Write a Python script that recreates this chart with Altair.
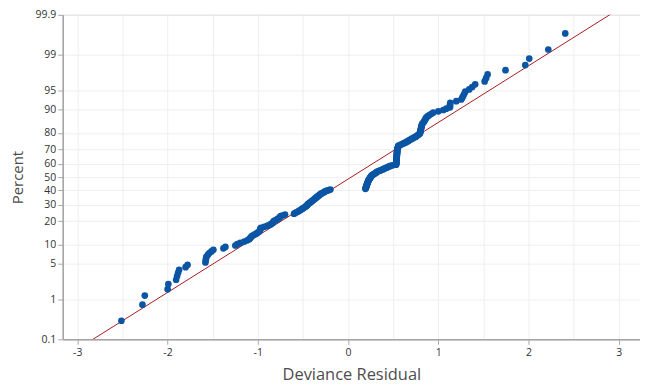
import altair as alt
import pandas as pd
from statistics import NormalDist

# Deviance residuals (sorted), in groups
lower_tail = [-2.510, -2.277, -2.251, -1.998, -1.990, -1.904, -1.893, -1.882, -1.871, -1.799, -1.777,
              -1.579, -1.576, -1.572, -1.568, -1.551, -1.535, -1.513, -1.491]
lower_body = [-1.380, -1.358, -1.248, -1.226, -1.193, -1.149, -1.116, -1.094, -1.083, -1.072, -1.061,
              -1.038, -1.016, -1.000, -0.983, -0.978, -0.972, -0.969, -0.965, -0.928, -0.895,
              -0.873, -0.854, -0.840, -0.829, -0.824, -0.818, -0.796, -0.780, -0.768, -0.757,
              -0.752, -0.744, -0.719, -0.697, -0.598, -0.587, -0.570, -0.553, -0.542, -0.526,
              -0.515, -0.504, -0.493, -0.482, -0.469, -0.460, -0.454, -0.447, -0.440, -0.432,
              -0.421, -0.410, -0.401, -0.393, -0.384, -0.375, -0.366, -0.358, -0.350, -0.341,
              -0.333, -0.324, -0.315, -0.307, -0.297, -0.286, -0.272, -0.261, -0.250, -0.234,
              -0.212, -0.195]
upper_body = [0.193, 0.196, 0.198, 0.201, 0.203, 0.205, 0.207, 0.209, 0.212, 0.214, 0.216, 0.218,
              0.222, 0.224, 0.227, 0.229,
              0.234, 0.238, 0.243, 0.247, 0.251, 0.256, 0.260, 0.266, 0.273, 0.284, 0.295, 0.307,
              0.314, 0.321,
              0.334, 0.351, 0.367, 0.384, 0.395, 0.411, 0.428, 0.439, 0.455, 0.469, 0.494, 0.533,
              0.534, 0.535, 0.535, 0.536, 0.536, 0.537, 0.537, 0.538, 0.538, 0.539, 0.539, 0.540,
              0.540, 0.541, 0.541, 0.542, 0.542, 0.543, 0.543, 0.544, 0.544, 0.545, 0.545, 0.546,
              0.547,
              0.551, 0.553, 0.556, 0.558, 0.560,
              0.582, 0.599, 0.615, 0.634, 0.648, 0.663, 0.676, 0.689, 0.703, 0.720, 0.736, 0.751,
              0.764, 0.775, 0.786, 0.797,
              0.799, 0.801, 0.803, 0.805, 0.807, 0.810, 0.812, 0.814, 0.817, 0.819,
              0.825, 0.836, 0.842, 0.849, 0.856, 0.862, 0.869, 0.885, 0.902, 0.924, 0.946]
upper_tail = [1.001, 1.056, 1.089, 1.130, 1.130, 1.131, 1.133, 1.200, 1.255, 1.266, 1.277, 1.288,
              1.299, 1.343, 1.376, 1.409, 1.514, 1.530, 1.547, 1.745, 1.964, 2.008, 2.219, 2.407]

residuals = lower_tail + lower_body + upper_body + upper_tail

y_tick_percents = [0.1, 1, 5, 10, 20, 30, 40, 50, 60, 70, 80, 90, 95, 99, 99.9]
x_tick_values = [-3, -2.5, -2, -1.5, -1, -0.5, 0, 0.5, 1, 1.5, 2, 2.5, 3]
x_domain = [-3.16, 3.235]

nd = NormalDist()
y_tick_z = [nd.inv_cdf(p / 100) for p in y_tick_percents]
y_domain = [min(y_tick_z), max(y_tick_z)]

df = pd.DataFrame({"residual": residuals})
base = alt.Chart(df)

xscale = alt.Scale(domain=x_domain, nice=False, zero=False)
yscale = alt.Scale(domain=y_domain, nice=False, zero=False)

x_axis = alt.Axis(
    values=x_tick_values,
    labelExpr="datum.value % 1 == 0 ? toString(datum.value) : ''",
    tickOpacity={"condition": {"test": "datum.value % 1 != 0", "value": 0}, "value": 1},
    grid=True, labelPadding=3, titlePadding=9, labelFlush=False,
    domainWidth=1.5, titleFontSize=16.5,
)
y_axis = alt.Axis(
    values=y_tick_z,
    labelExpr="toString(round(cumulativeNormal(datum.value) * 1000) / 10)",
    grid=True, labelPadding=2, titlePadding=10, labelOverlap=False, labelFlush=False,
    labelBound=False, domainWidth=1.5, titleFontSize=15,
)

fit_line = (
    base.transform_aggregate(m="mean(residual)", s="stdev(residual)")
    .transform_calculate(
        x1="datum.m - 3.5 * datum.s", x2="datum.m + 3.5 * datum.s",
        y1="-3.5", y2="3.5",
    )
    .mark_rule(color="#a81c1c", strokeWidth=1, clip=True)
    .encode(
        x=alt.X("x1:Q", scale=xscale, axis=x_axis, title="Deviance Residual"),
        x2="x2:Q",
        y=alt.Y("y1:Q", scale=yscale, axis=y_axis, title="Percent"),
        y2="y2:Q",
    )
)

points = (
    base.transform_window(rank="row_number()", sort=[alt.SortField("residual")])
    .transform_joinaggregate(n="count()")
    .transform_calculate(z="quantileNormal((datum.rank - 0.3) / (datum.n + 0.4))")
    .mark_circle(size=45, color="#0b55a4", opacity=1)
    .encode(
        x=alt.X("residual:Q", scale=xscale, axis=x_axis, title="Deviance Residual"),
        y=alt.Y("z:Q", scale=yscale, axis=y_axis, title="Percent"),
    )
)

chart = (
    alt.layer(fit_line, points)
    .properties(
        width=580, height=326,
        padding={"left": 55, "top": 6, "right": 0, "bottom": 44},
        autosize=alt.AutoSizeParams(type="none"),
    )
    .configure_view(stroke="#b4b4b4", strokeWidth=1)
    .configure_axis(
        labelFont="Open Sans", titleFont="Open Sans",
        labelFontSize=10.5,
        labelColor="#333333", titleColor="#4d4d4d", titleFontWeight="normal",
        gridColor="#efefef", domainColor="#a6a6a6", tickColor="#a6a6a6", tickSize=5,
    )
)

chart.save("out.html", embed_options={"renderer": "svg", "actions": False})
